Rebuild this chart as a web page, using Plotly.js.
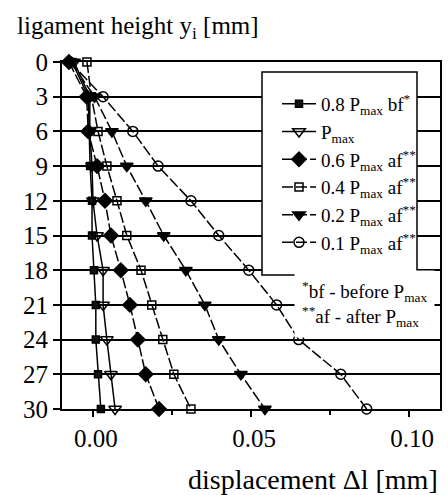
<!DOCTYPE html>
<html>
<head>
<meta charset="utf-8">
<script src="https://cdn.plot.ly/plotly-3.0.1.min.js"></script>
<style>html,body{margin:0;padding:0;background:#fff}#chart{width:448px;height:495px}#probe{position:absolute;left:0;top:0;width:1px;height:1px;overflow:hidden;color:#fff;font:1px serif}</style>
</head>
<body>
<div id="chart"></div>
<div id="probe"></div>
<script>
// ligament height levels [mm]
const heights = [0, 3, 6, 9, 12, 15, 18, 21, 24, 27, 30];
const yTickVals = [0, 3, 6, 9, 12, 15, 18, 21, 24, 27, 30];
const xTickVals = [0, 0.05, 0.10];
const xTickText = ['0.00', '0.05', '0.10'];

// displacement Δl [mm] for each load level
const p08bf = [-0.0066, -0.0015, -0.0012, -0.0009, -0.0003, -0.0003, 0.0003, 0.0009, 0.0009, 0.0016, 0.0025];
const pmax  = [-0.0060, -0.0010, -0.0010, -0.0003, 0.0000, 0.0013, 0.0032, 0.0032, 0.0044, 0.0057, 0.0070];
const p06af = [-0.0076, -0.0020, -0.0015, 0.0013, 0.0038, 0.0057, 0.0088, 0.0117, 0.0142, 0.0167, 0.0209];
const p04af = [-0.0019, -0.0005, 0.0016, 0.0044, 0.0076, 0.0107, 0.0152, 0.0186, 0.0221, 0.0256, 0.0310];
const p02af = [-0.0070, 0.0005, 0.0060, 0.0107, 0.0167, 0.0224, 0.0294, 0.0354, 0.0398, 0.0468, 0.0544];
const p01af = [-0.0073, 0.0032, 0.0126, 0.0206, 0.0310, 0.0398, 0.0493, 0.0581, 0.0651, 0.0784, 0.0866];

const seriesNames = [
  '0.8 P<sub>max</sub> bf<sup>*</sup>',
  'P<sub>max</sub>',
  '0.6 P<sub>max</sub> af<sup>**</sup>',
  '0.4 P<sub>max</sub> af<sup>**</sup>',
  '0.2 P<sub>max</sub> af<sup>**</sup>',
  '0.1 P<sub>max</sub> af<sup>**</sup>'
];
const seriesValues = [p08bf, pmax, p06af, p04af, p02af, p01af];
const styles = [
  {symbol: 'square', size: 7, dash: 'solid', color: '#111'},
  {symbol: 'triangle-down-open', size: 11, dash: 'solid', color: '#000'},
  {symbol: 'diamond', size: 11, dash: '11px,3px', color: '#000'},
  {symbol: 'square-open', size: 8, dash: '11px,3px', color: '#000'},
  {symbol: 'triangle-down', size: 11, dash: '11px,3px', color: '#000'},
  {symbol: 'circle-open', size: 10, dash: '11px,3px', color: '#000'}
];

const FONT = 'Liberation Serif';

const traces = seriesValues.map((vals, i) => ({
  type: 'scatter',
  mode: 'lines+markers',
  name: seriesNames[i],
  x: vals,
  y: heights,
  line: {color: '#000', width: 1.5, dash: styles[i].dash},
  marker: {symbol: styles[i].symbol, size: styles[i].size, color: styles[i].color,
           line: {color: '#000', width: 1.5}},
  cliponaxis: false
}));

const layout = {
  width: 448, height: 495,
  margin: {l: 62, r: 8, t: 62, b: 86},
  font: {family: FONT, color: '#000', size: 20},
  title: {
    text: 'ligament height y<sub>i</sub> [mm]',
    font: {family: FONT, size: 25, color: '#000'},
    xref: 'container', x: 17 / 448, xanchor: 'left',
    yref: 'container', y: 1 - 25 / 495, yanchor: 'middle'
  },
  xaxis: {
    range: [-0.0098, 0.1098],
    tickvals: xTickVals, ticktext: xTickText,
    ticks: 'outside', ticklen: 6, tickwidth: 1.5, tickcolor: '#000',
    ticklabelshift: 3,
    minor: {tickvals: [0.025, 0.075], ticks: 'outside', ticklen: 4, tickwidth: 1.5, tickcolor: '#000'},
    showgrid: false, zeroline: false,
    showline: true, mirror: true, linecolor: '#000', linewidth: 2,
    tickfont: {family: FONT, size: 25, color: '#000'}
  },
  yaxis: {
    range: [30, 0],
    tickvals: yTickVals,
    ticks: 'outside', ticklen: 7, tickwidth: 1.5, tickcolor: '#000',
    showgrid: true, gridcolor: '#000', gridwidth: 1.5,
    zeroline: false,
    showline: true, mirror: true, linecolor: '#000', linewidth: 2,
    tickfont: {family: FONT, size: 25, color: '#000'}
  },
  legend: {
    x: (277 - 62) / 378, xanchor: 'left', y: 1 - (85 - 62) / 347, yanchor: 'top',
    bgcolor: 'rgba(0,0,0,0)', borderwidth: 0, itemwidth: 34,
    font: {family: FONT, size: 19, color: '#000'}
  },
  shapes: [
    {
      type: 'rect', xref: 'paper', yref: 'paper', layer: 'above',
      x0: (262 - 62) / 378, x1: (417 - 62) / 378,
      y0: 1 - (275 - 62) / 347, y1: 1 - (72 - 62) / 347,
      fillcolor: '#fff', line: {color: '#000', width: 1.5}
    }
  ],
  annotations: [
    {
      text: '<sup>*</sup>bf - before P<sub>max</sub><br><sup>**</sup>af - after P<sub>max</sub>',
      xref: 'paper', yref: 'paper', x: 0.799, y: 0.3026,
      xanchor: 'center', yanchor: 'middle', align: 'left',
      showarrow: false, bgcolor: '#fff', borderpad: 7,
      font: {family: FONT, size: 19, color: '#000'}
    },
    {
      text: 'displacement \u0394l [mm]',
      xref: 'paper', yref: 'paper', x: 1.0, y: -0.2046,
      xanchor: 'right', yanchor: 'middle', showarrow: false,
      font: {family: FONT, size: 28, color: '#000'}
    }
  ]
};

Plotly.newPlot('chart', traces, layout, {displayModeBar: false}).then(() => {
  // force style resolution of every drawn text
  let n = 0;
  document.querySelectorAll('#chart text').forEach(el => { if (getComputedStyle(el).fontFamily) n++; });
  document.getElementById('probe').textContent = String(n);
});
</script>
</body>
</html>
